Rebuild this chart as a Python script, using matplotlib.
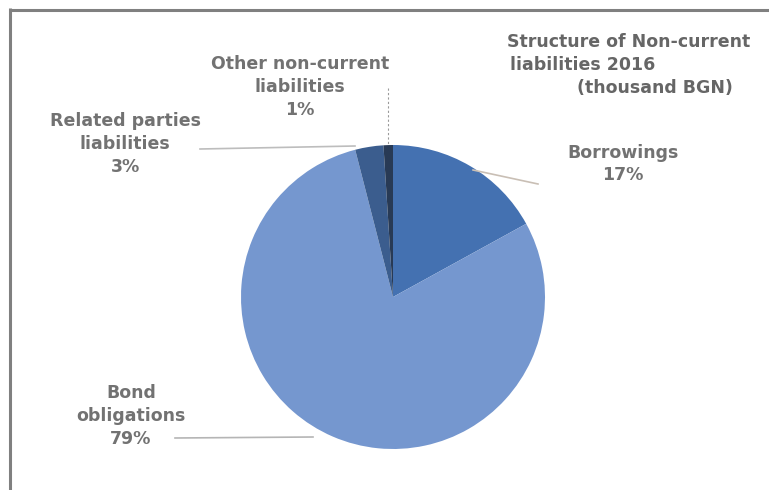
import matplotlib
matplotlib.use("Agg")
import matplotlib.pyplot as plt

# shares of non-current liabilities, 2016 (%)
labels = ["Borrowings", "Bond\nobligations", "Related parties\nliabilities", "Other non-current\nliabilities"]
shares = [17, 79, 3, 1]
colors = ["#4471b1", "#7597cf", "#3b5d8e", "#283a55"]

W, H = 769, 490
fig = plt.figure(figsize=(W / 100, H / 100), dpi=100)
ax = fig.add_axes([0, 0, 1, 1])

# pie laid out in pixel units (y up)
cx, cy, r = 393, H - 297, 152
ax.pie(shares, colors=colors, startangle=90, counterclock=False,
       center=(cx, cy), radius=r, wedgeprops=dict(linewidth=0))
ax.set_xlim(0, W)
ax.set_ylim(0, H)
ax.set_aspect("auto")
ax.axis("off")

txt = dict(fontsize=12.5, fontweight="bold", color="#727272", ha="center",
           va="center", linespacing=1.35)

def y(v):
    return H - v

# data labels
ax.text(623, y(164), f"{labels[0]}\n{shares[0]}%", **txt)
ax.text(131, y(416), f"{labels[1]}\n{shares[1]}%", **txt)
ax.text(125, y(144), f"{labels[2]}\n{shares[2]}%", **txt)
ax.text(300, y(87), f"{labels[3]}\n{shares[3]}%", **txt)

# leader lines
lc = "#bdbdbd"
ax.plot([473, 538], [y(170), y(184)], color="#c9bfb5", lw=1.2)
ax.plot([175, 313], [y(438), y(437)], color="#b5b5b5", lw=1.2)
ax.plot([200, 355], [y(149), y(146)], color=lc, lw=1.2)
ax.plot([388, 388], [y(88), y(145)], color="#9a9a9a", lw=0.8, ls=(0, (2, 2)))

# title
ax.text(507, y(42), "Structure of Non-current", fontsize=12.5, fontweight="bold",
        color="#666666", ha="left", va="center")
ax.text(510, y(65), "liabilities 2016", fontsize=12.5, fontweight="bold",
        color="#666666", ha="left", va="center")
ax.text(577, y(88), "(thousand BGN)", fontsize=12.5, fontweight="bold",
        color="#666666", ha="left", va="center")

# scanned frame edges
ax.plot([9, W], [y(10), y(10)], color="#808080", lw=2.2, solid_capstyle="butt")
ax.plot([10, 10], [y(8), 0], color="#808080", lw=2.2, solid_capstyle="butt")

fig.savefig("out.png", dpi=100, facecolor="white")
